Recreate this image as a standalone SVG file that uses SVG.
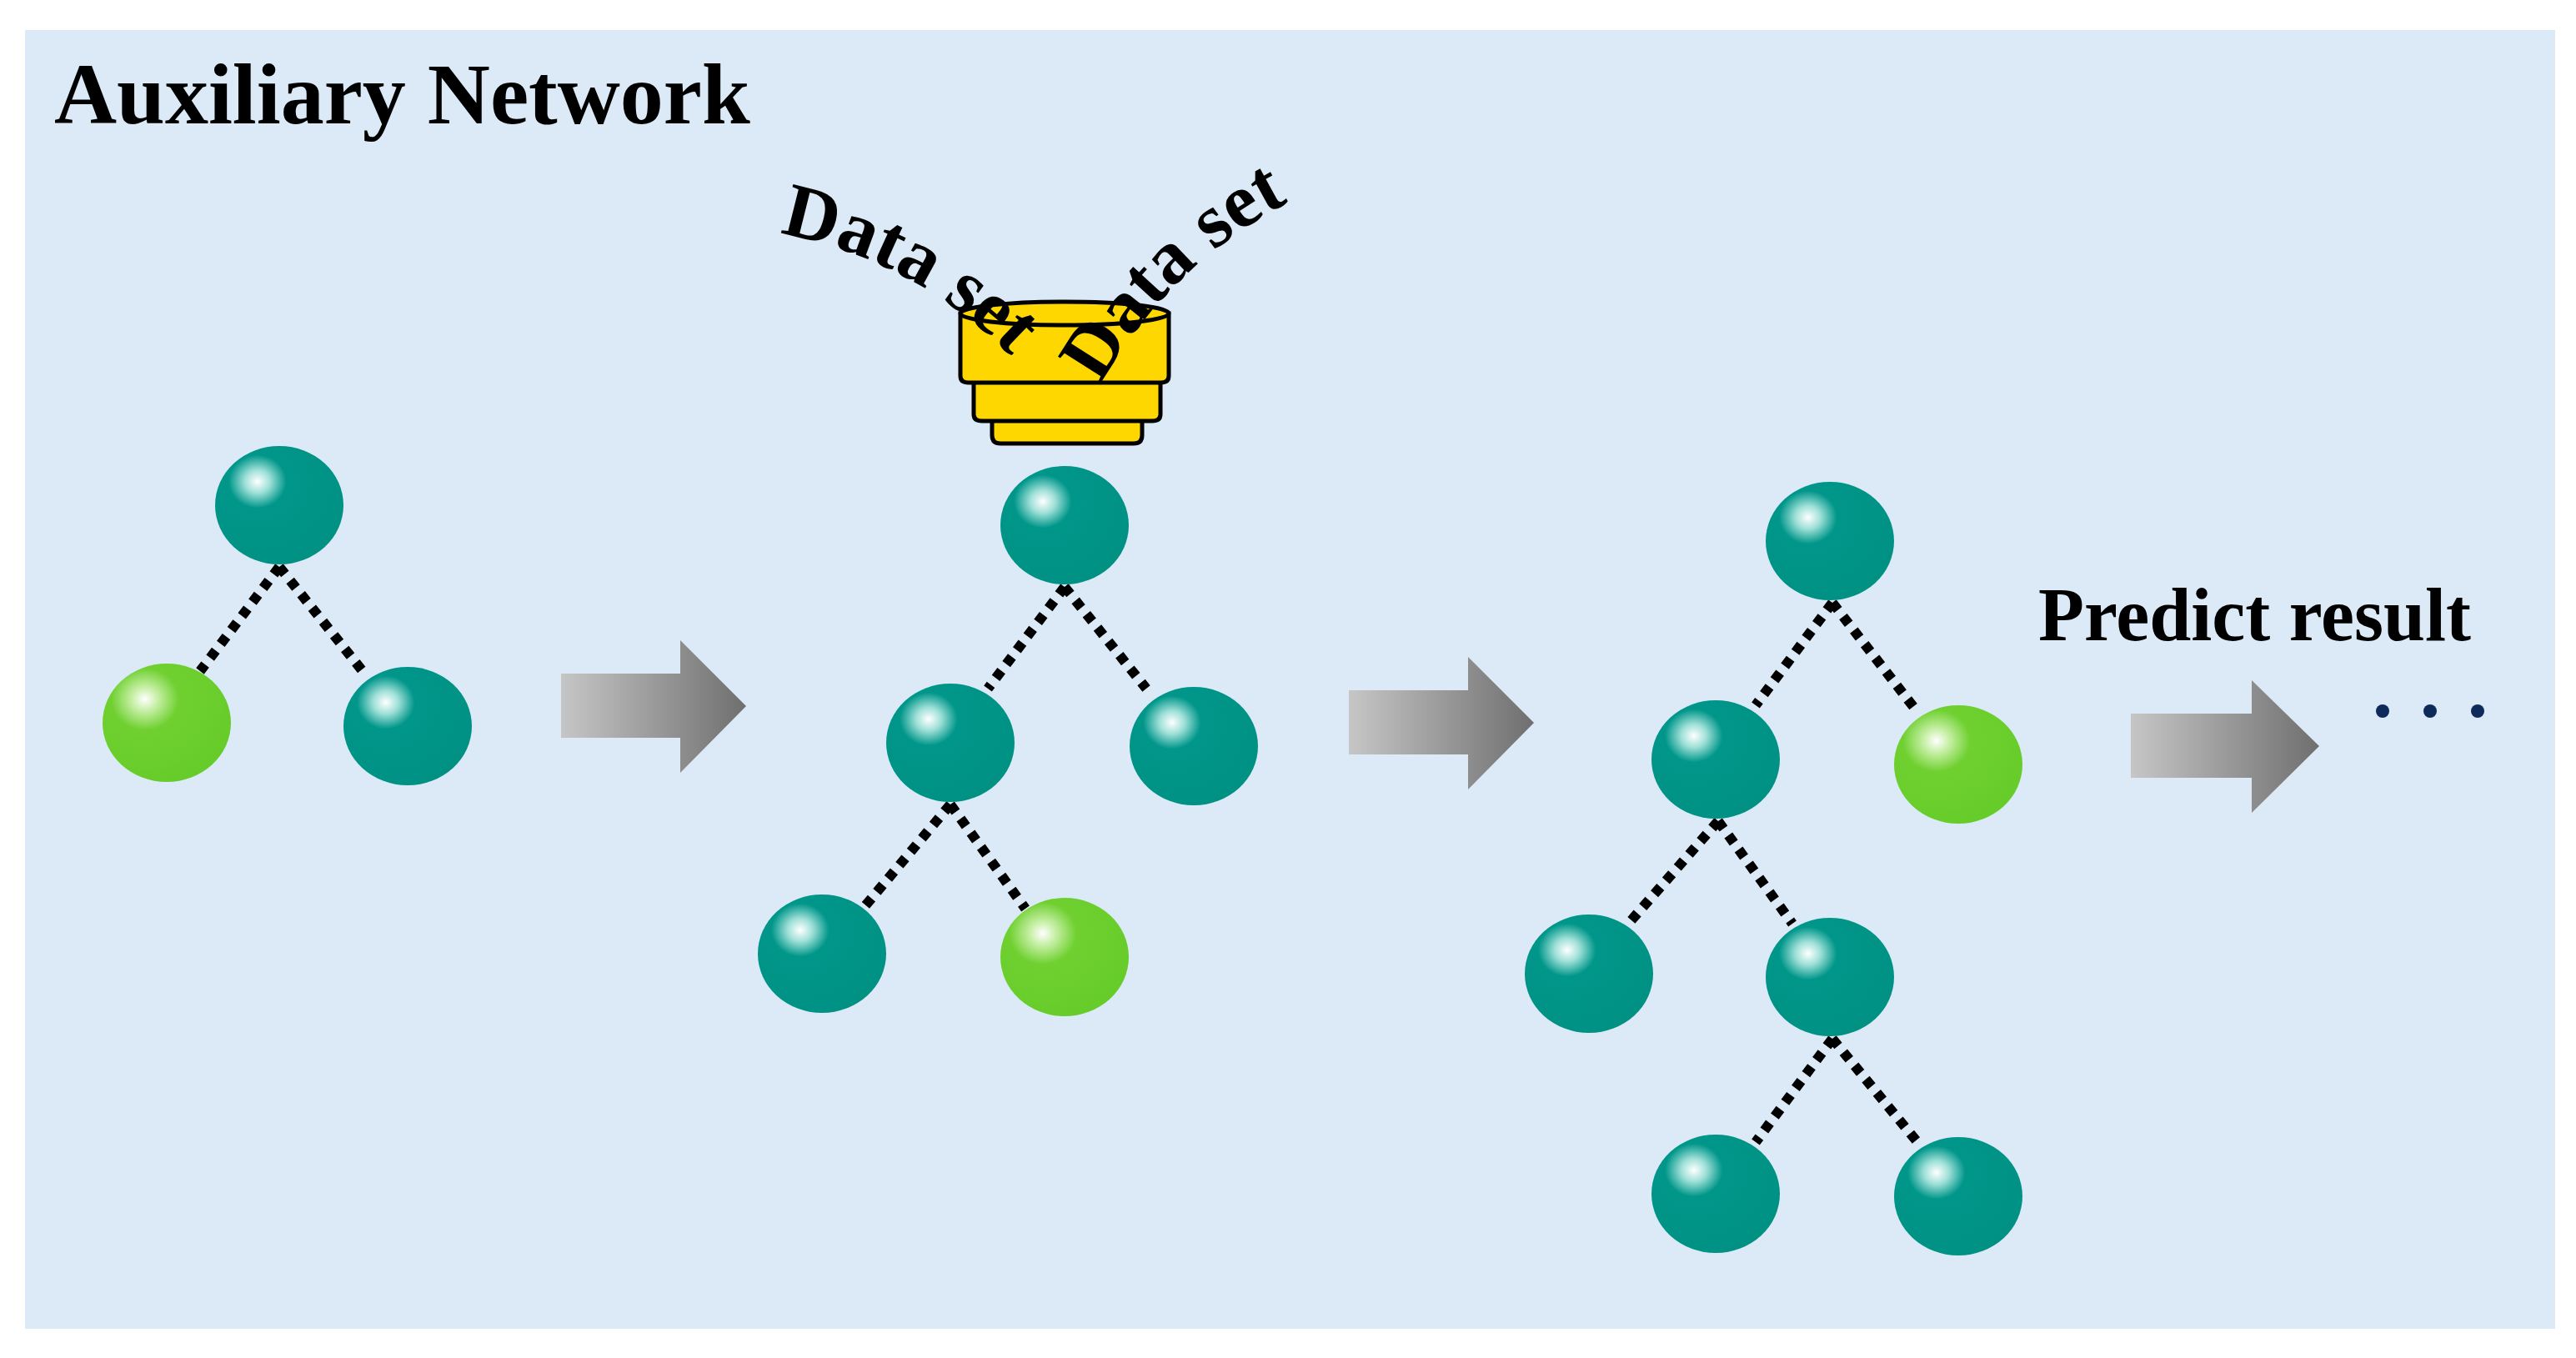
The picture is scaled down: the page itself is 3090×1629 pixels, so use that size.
<svg xmlns="http://www.w3.org/2000/svg" width="3090" height="1629" viewBox="0 0 3090 1629">
<style>
.t{font-family:"Liberation Serif","Times New Roman",serif;font-weight:bold;fill:#000}
.e{stroke:#000;stroke-width:12;stroke-dasharray:11 10;fill:none}
.db{fill:#FFD700;stroke:#000;stroke-width:5}
</style>
<defs>
<radialGradient id="gt" cx="0.33" cy="0.3" r="0.75" fx="0.33" fy="0.3">
<stop offset="0" stop-color="#ffffff"/><stop offset="0.13" stop-color="#9fe0d8"/><stop offset="0.3" stop-color="#00968a"/><stop offset="1" stop-color="#009183"/>
</radialGradient>
<radialGradient id="gg" cx="0.33" cy="0.3" r="0.75" fx="0.33" fy="0.3">
<stop offset="0" stop-color="#ffffff"/><stop offset="0.13" stop-color="#c8f0a8"/><stop offset="0.35" stop-color="#6fd030"/><stop offset="1" stop-color="#66cc2a"/>
</radialGradient>
<linearGradient id="ga" x1="0" x2="1" y1="0" y2="0">
<stop offset="0" stop-color="#c6c6c6"/><stop offset="1" stop-color="#6f6f6f"/>
</linearGradient>
<path id="p1" d="M 935 280 A 520 520 0 0 1 1250 470"/>
<path id="p2" d="M 1320 462 A 540 540 0 0 1 1610 215"/>
</defs>
<rect x="30" y="36" width="3035" height="1558" fill="#dbeaf6"/>
<text class="t" x="65" y="148" font-size="104">Auxiliary Network</text>
<g id="connectors">
<path class="e" d="M335 680 L240 805 M335 680 L435 805"/>
<path class="e" d="M1277 704 L1185 826 M1277 704 L1375 826"/>
<path class="e" d="M1140 965 L1035 1090 M1140 965 L1230 1090"/>
<path class="e" d="M2198 723 L2106 846 M2198 723 L2300 854"/>
<path class="e" d="M2061 985 L1955 1106 M2061 985 L2150 1108"/>
<path class="e" d="M2198 1246 L2106 1370 M2198 1246 L2300 1370"/>
</g>
<g id="arrows" fill="url(#ga)">
<path d="M673 808 H816 V768 L895 847 L816 927 V885 H673 Z"/>
<path d="M1618 828 H1761 V788 L1840 867 L1761 947 V905 H1618 Z"/>
<path d="M2556 856 H2701 V816 L2782 895 L2701 975 V933 H2556 Z"/>
</g>
<g id="database">
<path class="db" d="M1190 500 V522 Q1190 532 1200 532 H1360 Q1370 532 1370 522 V500 Z"/>
<path class="db" d="M1168 455 V497 Q1168 505 1178 505 H1382 Q1392 505 1392 497 V455 Z"/>
<path class="db" d="M1152 376 V451 Q1152 459 1162 459 H1392 Q1402 459 1402 451 V376 Z"/>
<ellipse class="db" cx="1277" cy="376" rx="125" ry="14"/>
</g>
<text class="t" font-size="92"><textPath href="#p1">Data set</textPath></text>
<text class="t" font-size="92"><textPath href="#p2">Data set</textPath></text>
<g id="n1"><ellipse cx="335" cy="606" rx="77" ry="71" fill="url(#gt)"/></g>
<g id="n2"><ellipse cx="200" cy="867" rx="77" ry="71" fill="url(#gg)"/></g>
<g id="n3"><ellipse cx="489" cy="871" rx="77" ry="71" fill="url(#gt)"/></g>
<g id="n4"><ellipse cx="1277" cy="630" rx="77" ry="71" fill="url(#gt)"/></g>
<g id="n5"><ellipse cx="1140" cy="891" rx="77" ry="71" fill="url(#gt)"/></g>
<g id="n6"><ellipse cx="1432" cy="895" rx="77" ry="71" fill="url(#gt)"/></g>
<g id="n7"><ellipse cx="986" cy="1144" rx="77" ry="71" fill="url(#gt)"/></g>
<g id="n8"><ellipse cx="1277" cy="1148" rx="77" ry="71" fill="url(#gg)"/></g>
<g id="n9"><ellipse cx="2195" cy="649" rx="77" ry="71" fill="url(#gt)"/></g>
<g id="n10"><ellipse cx="2058" cy="911" rx="77" ry="71" fill="url(#gt)"/></g>
<g id="n11"><ellipse cx="2349" cy="917" rx="77" ry="71" fill="url(#gg)"/></g>
<g id="n12"><ellipse cx="1906" cy="1168" rx="77" ry="71" fill="url(#gt)"/></g>
<g id="n13"><ellipse cx="2195" cy="1172" rx="77" ry="71" fill="url(#gt)"/></g>
<g id="n14"><ellipse cx="2058" cy="1432" rx="77" ry="71" fill="url(#gt)"/></g>
<g id="n15"><ellipse cx="2349" cy="1435" rx="77" ry="71" fill="url(#gt)"/></g>
<text class="t" x="2445" y="768" font-size="90">Predict result</text>
<g fill="#0d2a5a"><circle cx="2858" cy="853" r="8"/><circle cx="2915" cy="853" r="8"/><circle cx="2972" cy="853" r="8"/></g>
</svg>
